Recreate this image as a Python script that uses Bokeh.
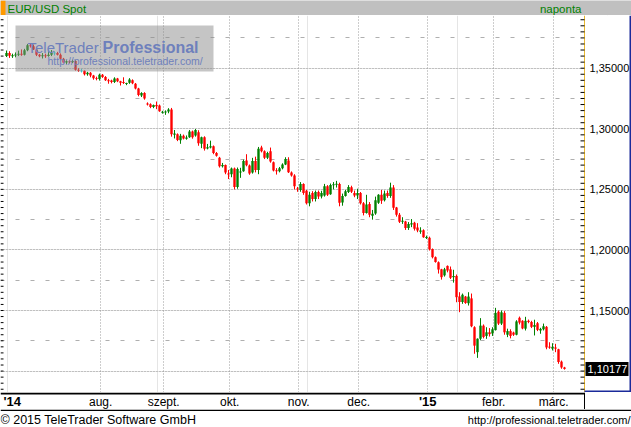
import numpy as np
import pandas as pd
from bokeh.plotting import figure
from bokeh.layouts import column
from bokeh.models import (ColumnDataSource, FixedTicker, SingleIntervalTicker, Grid,
                          Label, BoxAnnotation, Span, Range1d)
from bokeh.core.properties import value
from bokeh.embed import file_html
from bokeh.resources import INLINE

# ---------------- data ----------------
title_text = "EUR/USD Spot"
period_text = "naponta"
copyright_text = "\u00a9 2015 TeleTrader Software GmbH"
url_text = "http://professional.teletrader.com/"
brand_1 = "TeleTrader"
brand_2 = "Professional"
first_day = "2014-06-19"
last_day = "2015-03-06"

opens = [
    1.3600, 1.3625, 1.3602, 1.3605, 1.3612, 1.3620, 1.3612, 1.3648, 1.3690, 1.3682,
    1.3655, 1.3612, 1.3598, 1.3606, 1.3600, 1.3612, 1.3625, 1.3625, 1.3612, 1.3578,
    1.3548, 1.3558, 1.3550, 1.3560, 1.3488, 1.3478, 1.3478, 1.3450, 1.3462, 1.3440,
    1.3418, 1.3410, 1.3445, 1.3428, 1.3400, 1.3398, 1.3386, 1.3414, 1.3392, 1.3385,
    1.3372, 1.3380, 1.3401, 1.3371, 1.3332, 1.3275, 1.3296, 1.3208, 1.3203, 1.3180,
    1.3196, 1.3192, 1.3132, 1.3134, 1.3142, 1.3160, 1.2950, 1.2955, 1.2905, 1.2942,
    1.2918, 1.2930, 1.2978, 1.2945, 1.2972, 1.2876, 1.2930, 1.2838, 1.2845, 1.2856,
    1.2800, 1.2760, 1.2690, 1.2700, 1.2630, 1.2625, 1.2672, 1.2520, 1.2640, 1.2650,
    1.2738, 1.2697, 1.2640, 1.2735, 1.2660, 1.2845, 1.2815, 1.2760, 1.2815, 1.2724,
    1.2658, 1.2650, 1.2675, 1.2705, 1.2738, 1.2640, 1.2615, 1.2505, 1.2495, 1.2545,
    1.2488, 1.2385, 1.2470, 1.2420, 1.2478, 1.2440, 1.2450, 1.2525, 1.2460, 1.2535,
    1.2540, 1.2545, 1.2392, 1.2445, 1.2478, 1.2518, 1.2470, 1.2450, 1.2470, 1.2385,
    1.2305, 1.2380, 1.2282, 1.2300, 1.2390, 1.2455, 1.2410, 1.2470, 1.2445, 1.2515,
    1.2350, 1.2290, 1.2232, 1.2235, 1.2180, 1.2210, 1.2225, 1.2185, 1.2150, 1.2162,
    1.2100, 1.2100, 1.2008, 1.1940, 1.1898, 1.1840, 1.1790, 1.1868, 1.1840, 1.1775,
    1.1785, 1.1616, 1.1570, 1.1615, 1.1560, 1.1600, 1.1362, 1.1156, 1.1267, 1.1375,
    1.1290, 1.1320, 1.1310, 1.1338, 1.1490, 1.1392, 1.1480, 1.1300, 1.1330, 1.1318,
    1.1300, 1.1440, 1.1415, 1.1350, 1.1415, 1.1405, 1.1365, 1.1395, 1.1335, 1.1345,
    1.1365, 1.1200, 1.1185, 1.1195, 1.1180, 1.1078, 1.1030,
]
highs = [
    1.3646, 1.3640, 1.3620, 1.3630, 1.3645, 1.3655, 1.3660, 1.3700, 1.3705, 1.3695,
    1.3672, 1.3618, 1.3625, 1.3620, 1.3640, 1.3650, 1.3640, 1.3635, 1.3622, 1.3585,
    1.3565, 1.3568, 1.3570, 1.3565, 1.3500, 1.3495, 1.3482, 1.3470, 1.3468, 1.3445,
    1.3430, 1.3455, 1.3452, 1.3435, 1.3412, 1.3405, 1.3425, 1.3420, 1.3396, 1.3425,
    1.3380, 1.3418, 1.3408, 1.3378, 1.3338, 1.3302, 1.3302, 1.3218, 1.3210, 1.3200,
    1.3225, 1.3200, 1.3148, 1.3152, 1.3170, 1.3172, 1.2990, 1.2962, 1.2958, 1.2952,
    1.2945, 1.2990, 1.2985, 1.2998, 1.2988, 1.2935, 1.2938, 1.2875, 1.2902, 1.2862,
    1.2808, 1.2768, 1.2718, 1.2705, 1.2660, 1.2680, 1.2680, 1.2680, 1.2678, 1.2745,
    1.2790, 1.2705, 1.2760, 1.2770, 1.2850, 1.2860, 1.2822, 1.2810, 1.2845, 1.2730,
    1.2675, 1.2685, 1.2715, 1.2765, 1.2765, 1.2648, 1.2625, 1.2520, 1.2560, 1.2550,
    1.2495, 1.2480, 1.2485, 1.2490, 1.2490, 1.2488, 1.2545, 1.2535, 1.2548, 1.2560,
    1.2570, 1.2555, 1.2465, 1.2495, 1.2535, 1.2530, 1.2490, 1.2505, 1.2478, 1.2395,
    1.2455, 1.2395, 1.2330, 1.2440, 1.2460, 1.2495, 1.2490, 1.2490, 1.2555, 1.2535,
    1.2355, 1.2305, 1.2270, 1.2240, 1.2230, 1.2255, 1.2232, 1.2221, 1.2187, 1.2170,
    1.2118, 1.2110, 1.2012, 1.1946, 1.1905, 1.1844, 1.1852, 1.1872, 1.1863, 1.1836,
    1.1797, 1.1651, 1.1640, 1.1620, 1.1651, 1.1640, 1.1370, 1.1270, 1.1437, 1.1385,
    1.1362, 1.1355, 1.1362, 1.1522, 1.1500, 1.1500, 1.1495, 1.1350, 1.1345, 1.1325,
    1.1420, 1.1450, 1.1420, 1.1448, 1.1425, 1.1415, 1.1424, 1.1405, 1.1357, 1.1392,
    1.1372, 1.1238, 1.1230, 1.1225, 1.1184, 1.1087, 1.1035,
]
lows = [
    1.3592, 1.3585, 1.3585, 1.3590, 1.3600, 1.3602, 1.3605, 1.3640, 1.3670, 1.3650,
    1.3600, 1.3590, 1.3580, 1.3585, 1.3595, 1.3600, 1.3605, 1.3605, 1.3570, 1.3540,
    1.3535, 1.3540, 1.3542, 1.3480, 1.3470, 1.3465, 1.3440, 1.3438, 1.3425, 1.3405,
    1.3400, 1.3398, 1.3420, 1.3395, 1.3372, 1.3375, 1.3378, 1.3385, 1.3357, 1.3370,
    1.3360, 1.3371, 1.3368, 1.3325, 1.3268, 1.3262, 1.3240, 1.3192, 1.3170, 1.3170,
    1.3162, 1.3140, 1.3125, 1.3115, 1.3128, 1.2935, 1.2920, 1.2898, 1.2876, 1.2912,
    1.2910, 1.2925, 1.2918, 1.2935, 1.2860, 1.2840, 1.2820, 1.2830, 1.2838, 1.2790,
    1.2770, 1.2680, 1.2680, 1.2625, 1.2585, 1.2600, 1.2500, 1.2505, 1.2595, 1.2645,
    1.2690, 1.2620, 1.2630, 1.2640, 1.2625, 1.2805, 1.2750, 1.2750, 1.2720, 1.2648,
    1.2622, 1.2640, 1.2665, 1.2700, 1.2635, 1.2605, 1.2500, 1.2480, 1.2480, 1.2455,
    1.2375, 1.2360, 1.2400, 1.2400, 1.2420, 1.2425, 1.2440, 1.2445, 1.2455, 1.2500,
    1.2515, 1.2360, 1.2365, 1.2440, 1.2470, 1.2470, 1.2435, 1.2420, 1.2375, 1.2285,
    1.2300, 1.2270, 1.2250, 1.2290, 1.2380, 1.2380, 1.2400, 1.2430, 1.2430, 1.2330,
    1.2275, 1.2222, 1.2215, 1.2165, 1.2165, 1.2188, 1.2160, 1.2146, 1.2133, 1.2100,
    1.2090, 1.1995, 1.1930, 1.1895, 1.1805, 1.1755, 1.1780, 1.1815, 1.1760, 1.1730,
    1.1568, 1.1486, 1.1555, 1.1555, 1.1541, 1.1362, 1.1143, 1.1109, 1.1255, 1.1270,
    1.1266, 1.1285, 1.1290, 1.1335, 1.1380, 1.1380, 1.1300, 1.1280, 1.1270, 1.1290,
    1.1295, 1.1385, 1.1345, 1.1335, 1.1395, 1.1355, 1.1294, 1.1330, 1.1308, 1.1335,
    1.1180, 1.1184, 1.1170, 1.1156, 1.1060, 1.1019, 1.1012,
]
closes = [
    1.3625, 1.3602, 1.3605, 1.3612, 1.3620, 1.3612, 1.3648, 1.3690, 1.3682, 1.3655,
    1.3612, 1.3598, 1.3606, 1.3600, 1.3612, 1.3625, 1.3625, 1.3612, 1.3578, 1.3548,
    1.3558, 1.3550, 1.3560, 1.3488, 1.3478, 1.3478, 1.3450, 1.3462, 1.3440, 1.3418,
    1.3410, 1.3445, 1.3428, 1.3400, 1.3392, 1.3386, 1.3416, 1.3392, 1.3380, 1.3378,
    1.3375, 1.3407, 1.3375, 1.3332, 1.3278, 1.3296, 1.3250, 1.3200, 1.3180, 1.3196,
    1.3185, 1.3145, 1.3140, 1.3142, 1.3160, 1.2955, 1.2960, 1.2908, 1.2942, 1.2920,
    1.2928, 1.2978, 1.2930, 1.2990, 1.2880, 1.2930, 1.2835, 1.2848, 1.2855, 1.2800,
    1.2778, 1.2690, 1.2700, 1.2640, 1.2625, 1.2672, 1.2520, 1.2668, 1.2648, 1.2735,
    1.2698, 1.2630, 1.2735, 1.2660, 1.2835, 1.2815, 1.2760, 1.2800, 1.2730, 1.2655,
    1.2650, 1.2675, 1.2705, 1.2750, 1.2642, 1.2615, 1.2525, 1.2500, 1.2545, 1.2470,
    1.2385, 1.2455, 1.2420, 1.2478, 1.2440, 1.2470, 1.2525, 1.2455, 1.2535, 1.2540,
    1.2545, 1.2390, 1.2445, 1.2485, 1.2520, 1.2480, 1.2450, 1.2470, 1.2385, 1.2305,
    1.2375, 1.2290, 1.2298, 1.2410, 1.2455, 1.2405, 1.2465, 1.2445, 1.2515, 1.2348,
    1.2290, 1.2232, 1.2240, 1.2180, 1.2215, 1.2220, 1.2175, 1.2160, 1.2160, 1.2105,
    1.2105, 1.2005, 1.1940, 1.1900, 1.1838, 1.1775, 1.1840, 1.1830, 1.1770, 1.1785,
    1.1610, 1.1570, 1.1630, 1.1562, 1.1615, 1.1370, 1.1210, 1.1267, 1.1375, 1.1282,
    1.1320, 1.1305, 1.1345, 1.1480, 1.1392, 1.1485, 1.1320, 1.1330, 1.1290, 1.1300,
    1.1410, 1.1400, 1.1352, 1.1415, 1.1405, 1.1365, 1.1380, 1.1340, 1.1348, 1.1370,
    1.1195, 1.1195, 1.1200, 1.1185, 1.1075, 1.1030, 1.10177,
]
month_names = {1: "jan.", 2: "febr.", 3: "márc.", 4: "ápr.", 5: "máj.", 6: "jún.",
               7: "júl.", 8: "aug.", 9: "szept.", 10: "okt.", 11: "nov.", 12: "dec."}
price_step = 0.05
price_minor_step = 0.005

# ---------------- layout / style ----------------
W = 631
HEAD_H, MAIN_H, BAND_H, FOOT_H = 15, 377, 17, 18
PLOT_W = 584                 # width of the candle area inside the main figure
PX_X = 3.0                   # pixels per trading day
X_START = -2.4
X_END = X_START + W / PX_X
PLOT_RIGHT = X_START + PLOT_W / PX_X
Y_END = 1.3935
PX_Y = 1211.5                # pixels per price unit
Y_START = Y_END - MAIN_H / PX_Y
FONT = "Liberation Sans"
GREEN, RED, DOJI = "#008000", "#FF0000", "#20D8E0"
GRID_COLOR = "#9A9A9A"
GOLD, BLUE = "#E8B830", "#1A2A9A"


def bare(fig):
    fig.axis.visible = False
    fig.grid.visible = False
    fig.outline_line_color = None
    return fig


dates = pd.bdate_range(first_day, last_day)
n = len(opens)
assert len(dates) == n == len(highs) == len(lows) == len(closes), (len(dates), n)

o, h, l, c = (np.array(v) for v in (opens, highs, lows, closes))
xpos = np.arange(n) - 0.4
colors = np.where(c > o, GREEN, np.where(c < o, RED, DOJI))
mid = (o + c) / 2
half = np.maximum(np.abs(c - o) / 2, 0.0004)
src = ColumnDataSource(dict(x=xpos, top=mid + half, bottom=mid - half, high=h, low=l, color=colors))

month_starts = [k for k in range(1, n) if dates[k].month != dates[k - 1].month][1:]
m_pos, m_txt, y_pos, y_txt = [], [], [], []
for k in month_starts:
    d = dates[k]
    if d.month == 1:
        y_pos.append(k)
        y_txt.append("'" + str(d.year)[2:])
    else:
        m_pos.append(k)
        m_txt.append(month_names[d.month])

# ---------------- header ----------------
hdr = bare(figure(width=W, height=HEAD_H, x_range=Range1d(0, W), y_range=Range1d(0, HEAD_H),
                  toolbar_location=None, output_backend="svg", min_border=0))
hdr.background_fill_color = "#C0C0C0"
hdr.border_fill_color = "#C0C0C0"
hdr.add_layout(BoxAnnotation(left=0, right=5, fill_color="#FF9A00", fill_alpha=1, line_color=None))
hdr.add_layout(Label(x=7, y=7, text=title_text, text_font=FONT, text_font_size="11.5px",
                     text_color=GREEN, text_baseline="middle", text_align="left"))
hdr.add_layout(Label(x=PLOT_W - 3, y=7, text=period_text, text_font=FONT, text_font_size="11.5px",
                     text_color=GREEN, text_baseline="middle", text_align="right"))

# ---------------- main chart ----------------
xr = Range1d(X_START, X_END)
p = figure(width=W, height=MAIN_H, x_range=xr, y_range=Range1d(Y_START, Y_END),
           toolbar_location=None, output_backend="svg", x_axis_location=None, y_axis_location=None,
           min_border=0)
p.outline_line_color = None
p.background_fill_color = "white"

# grids
p.add_layout(Grid(dimension=0, ticker=FixedTicker(ticks=month_starts), grid_line_color=GRID_COLOR,
                  grid_line_dash="1 2"))
p.add_layout(Grid(dimension=1, ticker=SingleIntervalTicker(interval=price_step),
                  grid_line_color=GRID_COLOR, grid_line_dash="1 2"))
mid_levels = list(np.round(np.arange(1.075, 1.40, price_step), 3))
p.add_layout(Grid(dimension=1, ticker=FixedTicker(ticks=mid_levels), grid_line_color="#AFAFAF",
                  grid_line_dash="4 11"))

# candles
p.segment(x0="x", y0="high", x1="x", y1="low", line_color="color", line_width=1, source=src)
p.vbar(x="x", width=0.8, top="top", bottom="bottom", fill_color="color", line_color=None, source=src)

# price-scale tick marks on both edges of the candle area
tick_levels = np.round(np.arange(1.085, Y_END, price_minor_step), 3)
nt = len(tick_levels)
p.segment(x0=[X_START] * nt, y0=tick_levels, x1=[X_START + 3 / PX_X] * nt, y1=tick_levels,
          line_color="black", line_width=1)

# watermark
p.add_layout(BoxAnnotation(left=X_START + 15 / PX_X, right=X_START + 213 / PX_X,
                           bottom=Y_END - 56 / PX_Y, top=Y_END - 10 / PX_Y,
                           fill_color="#8C8C8C", fill_alpha=0.5, line_color=None))
WM = "#6E80BC"
p.add_layout(Label(x=X_START + 27 / PX_X, y=Y_END - 32 / PX_Y, text=brand_1, text_font=FONT,
                   text_font_size="15px", text_color=WM, text_baseline="alphabetic"))
p.add_layout(Label(x=X_START + 102 / PX_X, y=Y_END - 32 / PX_Y, text=brand_2, text_font=FONT,
                   text_font_size="16px", text_font_style="bold", text_color=WM,
                   text_baseline="alphabetic"))
p.add_layout(Label(x=X_START + 47 / PX_X, y=Y_END - 45 / PX_Y, text=url_text, text_font=FONT,
                   text_font_size="10.5px", text_color=WM, text_baseline="alphabetic"))

# right price panel
p.add_layout(BoxAnnotation(left=PLOT_RIGHT, fill_color="white", fill_alpha=1, line_color=None))
p.add_layout(Span(location=PLOT_RIGHT, dimension="height", line_color=GOLD, line_width=1))
p.add_layout(Span(location=X_END - 1 / PX_X, dimension="height", line_color=BLUE, line_width=2))
p.add_layout(BoxAnnotation(left=PLOT_RIGHT, bottom=Y_START, top=Y_START + 2 / PX_Y,
                           fill_color=BLUE, fill_alpha=1, line_color=None))
p.segment(x0=[PLOT_RIGHT - 4 / PX_X] * nt, y0=tick_levels, x1=[PLOT_RIGHT] * nt, y1=tick_levels,
          line_color="black", line_width=1, level="overlay")
label_levels = [v for v in np.round(np.arange(1.10, Y_END, price_step), 2)
                if abs(v - closes[-1]) * PX_Y > 8]
p.text(x=[PLOT_RIGHT + 5 / PX_X] * len(label_levels), y=label_levels,
       text=[("%.5f" % v).replace(".", ",") for v in label_levels],
       text_font=value(FONT), text_font_size="11px", text_color="black",
       text_baseline="middle", text_align="left", level="overlay")

# last price tag
p.add_layout(BoxAnnotation(left=PLOT_RIGHT + 1 / PX_X, right=X_END - 3 / PX_X,
                           bottom=closes[-1] - 7 / PX_Y, top=closes[-1] + 7 / PX_Y,
                           fill_color="black", fill_alpha=1, line_color=None, level="overlay"))
p.add_layout(Label(x=PLOT_RIGHT + 3 / PX_X, y=closes[-1], text=("%.5f" % closes[-1]).replace(".", ","),
                   text_font=FONT, text_font_size="11px", text_color="white",
                   text_baseline="middle", text_align="left", level="overlay"))

# ---------------- time axis band ----------------
band = bare(figure(width=W, height=BAND_H, x_range=xr, y_range=Range1d(0, BAND_H),
                   toolbar_location=None, output_backend="svg", min_border=0))
band.add_layout(BoxAnnotation(right=PLOT_RIGHT, bottom=BAND_H - 2, fill_color="black", fill_alpha=1,
                              line_color=None))
band.add_layout(Span(location=PLOT_RIGHT, dimension="height", line_color="black", line_width=1))
band.text(x=m_pos, y=[8] * len(m_pos), text=m_txt, text_font=value(FONT), text_font_size="12px",
          text_color="black", text_baseline="middle", text_align="center")
band.text(x=y_pos, y=[8] * len(y_pos), text=y_txt, text_font=value(FONT), text_font_size="13px",
          text_font_style="bold", text_color="black", text_baseline="middle", text_align="center")
band.text(x=[X_START + 3 / PX_X], y=[8], text=["'" + str(dates[0].year)[2:]], text_font=value(FONT),
          text_font_size="13px", text_font_style="bold", text_color="black",
          text_baseline="middle", text_align="left")

# ---------------- footer ----------------
ftr = bare(figure(width=W, height=FOOT_H, x_range=Range1d(0, W), y_range=Range1d(0, FOOT_H),
                  toolbar_location=None, output_backend="svg", min_border=0))
ftr.add_layout(BoxAnnotation(bottom=FOOT_H - 1.5, fill_color="black", fill_alpha=1, line_color=None))
ftr.add_layout(Label(x=0, y=8, text=copyright_text, text_font=FONT, text_font_size="12.5px",
                     text_color="black", text_baseline="middle", text_align="left"))
ftr.add_layout(Label(x=W - 1, y=8, text=url_text, text_font=FONT, text_font_size="11px",
                     text_color="black", text_baseline="middle", text_align="right"))

layout = column(hdr, p, band, ftr, spacing=0)
open("out.html", "w").write(file_html(layout, INLINE))
